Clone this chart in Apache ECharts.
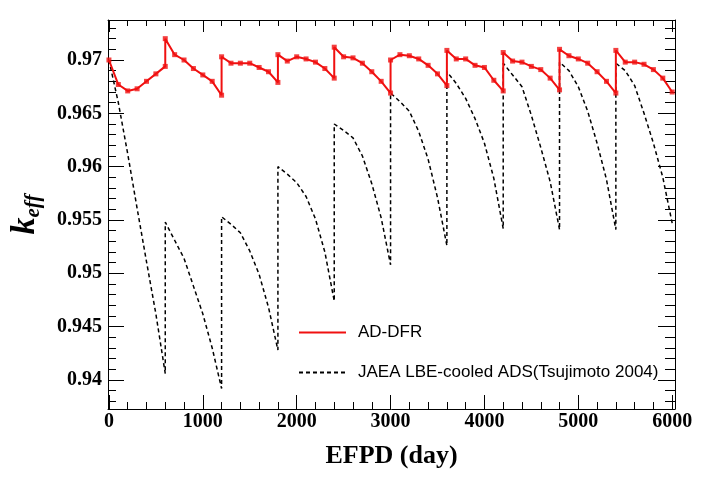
<!DOCTYPE html>
<html>
<head>
<meta charset="utf-8">
<script src="https://cdn.jsdelivr.net/npm/echarts@6/dist/echarts.min.js"></script>
<style>html,body{margin:0;padding:0;background:#fff}#c{width:708px;height:478px}</style>
</head>
<body>
<div id="c"></div>
<script>
// ---- data ----
const dfrName = 'AD-DFR';
const jaeaName = 'JAEA LBE-cooled ADS(Tsujimoto 2004)';

const dfrDays = [
  0,100,200,300,400,500,600,
  600,700,800,900,1000,1100,1200,
  1200,1300,1400,1500,1600,1700,1800,
  1800,1900,2000,2100,2200,2300,2400,
  2400,2500,2600,2700,2800,2900,3000,
  3000,3100,3200,3300,3400,3500,3600,
  3600,3700,3800,3900,4000,4100,4200,
  4200,4300,4400,4500,4600,4700,4800,
  4800,4900,5000,5100,5200,5300,5400,
  5400,5500,5600,5700,5800,5900,6000
];
const dfrK = [
  0.9700,0.9677,0.9671,0.9673,0.9680,0.9687,0.9694,
  0.9720,0.9705,0.9700,0.9692,0.9686,0.9680,0.9667,
  0.9703,0.9697,0.9697,0.9697,0.9693,0.9689,0.9679,
  0.9705,0.9699,0.9703,0.9701,0.9698,0.9692,0.9683,
  0.9712,0.9703,0.9702,0.9697,0.9689,0.9680,0.9669,
  0.9700,0.9705,0.9704,0.9701,0.9695,0.9687,0.9676,
  0.9709,0.9701,0.9701,0.9695,0.9693,0.9681,0.9671,
  0.9707,0.9699,0.9698,0.9694,0.9691,0.9683,0.9672,
  0.9710,0.9704,0.9701,0.9697,0.9689,0.9680,0.9669,
  0.9709,0.9698,0.9698,0.9696,0.9691,0.9683,0.9670
];
const jaeaDays = dfrDays.slice();
const jaeaK = [
  0.9700,0.9660,0.9612,0.9561,0.9511,0.9462,0.9406,
  0.9548,0.9531,0.9514,0.9488,0.9462,0.9430,0.9392,
  0.9553,0.9546,0.9538,0.9521,0.9499,0.9468,0.9428,
  0.9600,0.9593,0.9585,0.9572,0.9551,0.9520,0.9474,
  0.9640,0.9634,0.9627,0.9610,0.9584,0.9552,0.9508,
  0.9669,0.9661,0.9652,0.9633,0.9607,0.9571,0.9526,
  0.9689,0.9678,0.9664,0.9645,0.9622,0.9589,0.9542,
  0.9697,0.9686,0.9675,0.9648,0.9618,0.9586,0.9541,
  0.9698,0.9690,0.9675,0.9652,0.9622,0.9588,0.9541,
  0.9697,0.9690,0.9676,0.9650,0.9622,0.9590,0.9547
];

const xMajorTicks = [0,1000,2000,3000,4000,5000,6000];
const xMinorTicks = [200,400,600,800,1200,1400,1600,1800,2200,2400,2600,2800,3200,3400,3600,3800,4200,4400,4600,4800,5200,5400,5600,5800];
const yMajorTicks = [0.94,0.945,0.95,0.955,0.96,0.965,0.97];
const yMinorTicks = [0.938,0.939,0.941,0.942,0.943,0.944,0.946,0.947,0.948,0.949,0.951,0.952,0.953,0.954,0.956,0.957,0.958,0.959,0.961,0.962,0.963,0.964,0.966,0.967,0.968,0.969,0.971,0.972,0.973];

const xMin = -10, xMax = 6030;
const yMin = 0.93728, yMax = 0.97375;

// ---- chart ----
const zip = (a, b) => a.map((v, i) => [v, b[i]]);
const serif = '"Liberation Serif","Times New Roman",serif';
const sans = '"Liberation Sans",Arial,Helvetica,sans-serif';
const black = '#000';
const red = '#f01010';
const gridBox = {left: 108, right: 33, top: 20, bottom: 69};

function xAx(grid, pos, ticks, len, labels) {
  return {
    type: 'value', gridIndex: grid, position: pos, min: xMin, max: xMax,
    axisLine: {show: grid === 0, onZero: false, lineStyle: {color: black, width: 1}},
    axisTick: {show: true, inside: true, length: len, customValues: ticks, lineStyle: {color: black, width: 1}},
    axisLabel: labels ? {show: true, customValues: ticks, formatter: v => String(v), color: black,
      fontFamily: serif, fontWeight: 'bold', fontSize: 20, margin: 3} : {show: false},
    splitLine: {show: false},
    name: labels ? 'EFPD (day)' : '', nameLocation: 'middle', nameGap: 34,
    nameTextStyle: {fontFamily: serif, fontWeight: 'bold', fontSize: 26, color: black}
  };
}
function yAx(grid, pos, ticks, len, labels) {
  return {
    type: 'value', gridIndex: grid, position: pos, min: yMin, max: yMax,
    axisLine: {show: grid === 0, onZero: false, lineStyle: {color: black, width: 1}},
    axisTick: {show: true, inside: true, length: len, customValues: ticks, lineStyle: {color: black, width: 1}},
    axisLabel: labels ? {show: true, customValues: ticks, formatter: v => String(+v.toFixed(3)), color: black,
      fontFamily: serif, fontWeight: 'bold', fontSize: 20, margin: 6} : {show: false},
    splitLine: {show: false},
    name: labels ? '{k|k}{s|eff}' : '', nameLocation: 'middle', nameGap: 64, nameRotate: 90,
    nameTextStyle: {
      color: black,
      rich: {
        k: {fontFamily: serif, fontStyle: 'italic', fontWeight: 'bold', fontSize: 34, color: black},
        s: {fontFamily: serif, fontStyle: 'italic', fontWeight: 'bold', fontSize: 21, color: black, padding: [16, 0, 0, 0]}
      }
    }
  };
}

const chart = echarts.init(document.getElementById('c'), null, {renderer: 'canvas'});
chart.setOption({
  animation: false,
  backgroundColor: '#fff',
  grid: [Object.assign({}, gridBox), Object.assign({}, gridBox)],
  xAxis: [
    xAx(0, 'bottom', xMajorTicks, 14, true),
    xAx(0, 'top', xMajorTicks, 12, false),
    xAx(1, 'bottom', xMinorTicks, 7, false),
    xAx(1, 'top', xMinorTicks, 6, false)
  ],
  yAxis: [
    yAx(0, 'left', yMajorTicks, 16, true),
    yAx(0, 'right', yMajorTicks, 17, false),
    yAx(1, 'left', yMinorTicks, 8, false),
    yAx(1, 'right', yMinorTicks, 10, false)
  ],
  legend: {
    orient: 'vertical', left: 298, top: 324, padding: 0,
    itemWidth: 47, itemHeight: 14, itemGap: 23,
    data: [dfrName, jaeaName],
    itemStyle: {opacity: 0},
    textStyle: {fontFamily: sans, fontSize: 17, color: black, padding: [0, 0, 0, 7]}
  },
  series: [
    {
      name: jaeaName, type: 'line', xAxisIndex: 0, yAxisIndex: 0,
      data: zip(jaeaDays, jaeaK), symbol: 'none',
      lineStyle: {color: black, width: 1.5, type: [4, 3]}, itemStyle: {color: black}, z: 2
    },
    {
      name: dfrName, type: 'line', xAxisIndex: 0, yAxisIndex: 0,
      data: zip(dfrDays, dfrK), symbol: 'none',
      lineStyle: {color: red, width: 2}, itemStyle: {color: red}, z: 3
    },
    {
      name: dfrName + ' points', type: 'scatter', xAxisIndex: 0, yAxisIndex: 0,
      data: zip(dfrDays, dfrK), symbol: 'rect', symbolSize: 5,
      itemStyle: {color: red}, z: 4
    }
  ]
});
</script>
</body>
</html>
